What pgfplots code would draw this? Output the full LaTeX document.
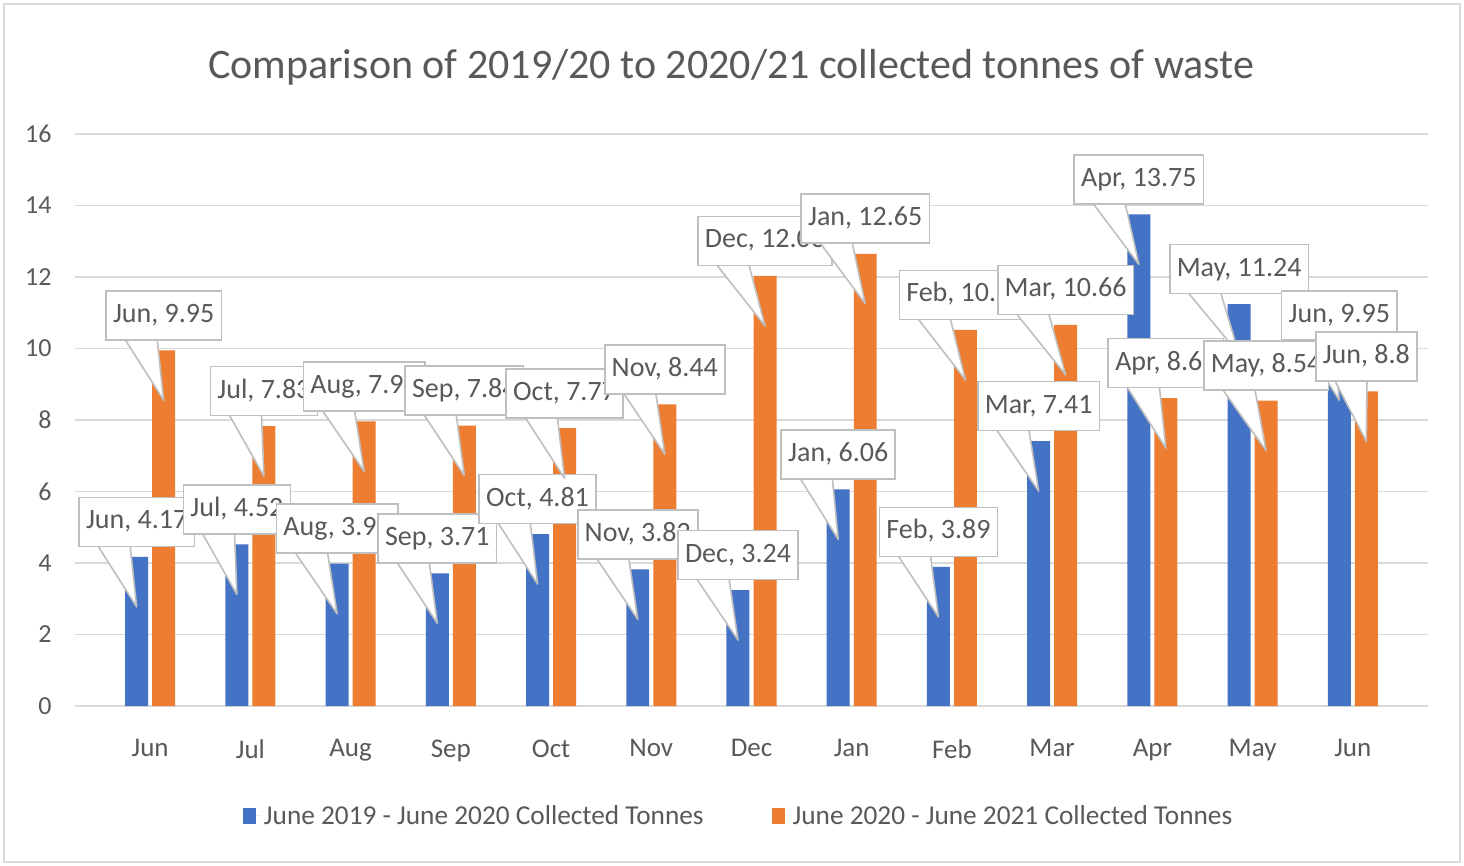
\documentclass[border=0pt]{standalone}
\usepackage{pgfplots}
\pgfplotsset{compat=1.18}
\usepackage{pgfplotstable}
\usetikzlibrary{calc}
\usepackage{fontspec}
\setmainfont{Carlito}
\definecolor{sblue}{HTML}{4472C4}
\definecolor{sorange}{HTML}{ED7D31}
\definecolor{txt}{HTML}{595959}
\definecolor{gridc}{HTML}{D9D9D9}
\definecolor{cbord}{HTML}{BFBFBF}

\pgfplotstableread{
x m b o
0 Jun 4.17 9.95
1 Jul 4.52 7.83
2 Aug 3.98 7.96
3 Sep 3.71 7.84
4 Oct 4.81 7.77
5 Nov 3.82 8.44
6 Dec 3.24 12.03
7 Jan 6.06 12.65
8 Feb 3.89 10.52
9 Mar 7.41 10.66
10 Apr 13.75 8.61
11 May 11.24 8.54
12 Jun 9.95 8.80
}\data

\tikzset{callout/.style={rectangle, draw=cbord, line width=1.6pt, fill=white, text=txt,
  font=\fontsize{28}{30}\selectfont, inner xsep=7pt, inner ysep=0pt,
  text height=20pt, text depth=6pt, minimum height=49pt,
  anchor=center, yshift=35pt,
  append after command={\pgfextra{%
    \fill[white] ($(\tikzlastnode.south west)+(20pt,2pt)$) -- ($(\tikzlastnode.center)+(0pt,-85pt)$) -- ($(\tikzlastnode.south west)+(52pt,2pt)$) -- cycle;
    \draw[cbord, line width=1.6pt, line join=round] ($(\tikzlastnode.south west)+(20pt,0.8pt)$) -- ($(\tikzlastnode.center)+(0pt,-85pt)$) -- ($(\tikzlastnode.south west)+(52pt,0.8pt)$);
  }}}}

\begin{document}
\begin{tikzpicture}[x=1pt,y=1pt]
\path[use as bounding box] (0,0) rectangle (1464,865);
\fill[white] (0,0) rectangle (1464,865);
\draw[gridc, line width=2pt] (4,3) rectangle (1460,861);
\begin{axis}[
  at={(75pt,159pt)}, anchor=south west,
  width=1353pt, height=572pt, scale only axis,
  xmin=-0.75, xmax=12.75, ymin=0, ymax=16,
  xtick={0,...,12}, xticklabels from table={\data}{m},
  ytick={0,2,...,16},
  axis line style={draw=none},
  major tick length=0pt,
  ymajorgrids, grid style={gridc, line width=1.8pt},
  tick label style={text=txt, font=\fontsize{26}{28}\selectfont},
  yticklabel style={xshift=-20pt},
  xticklabel style={yshift=-30pt, font=\fontsize{27}{28}\selectfont},
  /pgf/number format/assume math mode=true,
  clip=false,
  title={Comparison of 2019/20 to 2020/21 collected tonnes of waste},
  title style={at={(0.485,1)}, anchor=center, yshift=61pt, text=txt, font=\fontsize{42}{46}\selectfont},
  legend style={at={(0.4905,-0.192)}, anchor=center, draw=none, fill=none, legend columns=2,
    font=\fontsize{27.3}{30}\selectfont, text=txt,
    /tikz/every even column/.append style={column sep=66pt}},
  legend image code/.code={\fill[#1] (0pt,-8pt) rectangle (13pt,8pt); \path (0pt,0pt) -- (19pt,0pt);},
]
\addplot[ybar, bar width=0.229, bar shift=-0.135, fill=sblue, draw=none] table[x=x,y=b]{\data};
\addlegendentry{June 2019 - June 2020 Collected Tonnes}
\addplot[ybar, bar width=0.229, bar shift=0.135, fill=sorange, draw=none] table[x=x,y=o]{\data};
\addlegendentry{June 2020 - June 2021 Collected Tonnes}
\addplot[ybar, bar width=0.229, bar shift=-0.135, draw=none, fill=none, forget plot,
  point meta=explicit symbolic,
  nodes near coords={\pgfplotspointmeta, \pgfmathprintnumber{\pgfkeysvalueof{/data point/y}}},
  every node near coord/.append style={callout, xshift=-13.5pt}] table[x=x,y=b,meta=m]{\data};
\addplot[ybar, bar width=0.229, bar shift=0.135, draw=none, fill=none, forget plot,
  point meta=explicit symbolic,
  nodes near coords={\pgfplotspointmeta, \pgfmathprintnumber{\pgfkeysvalueof{/data point/y}}},
  every node near coord/.append style={callout, xshift=13.5pt}] table[x=x,y=o,meta=m]{\data};
\end{axis}
\end{tikzpicture}
\end{document}
